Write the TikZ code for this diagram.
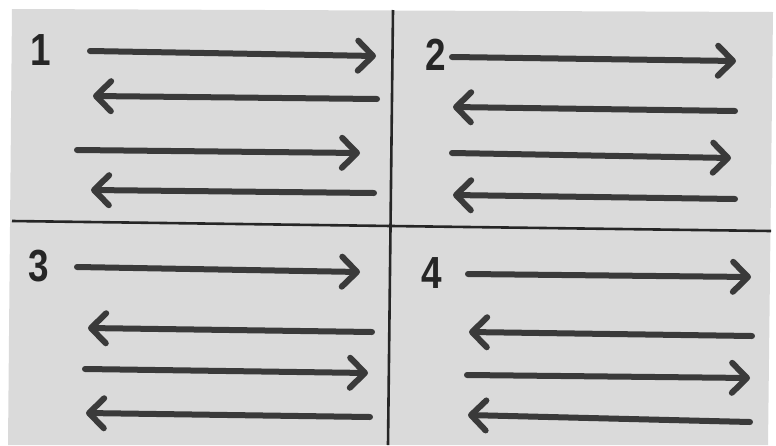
\documentclass[tikz,border=0pt]{standalone}
\usepackage{fontspec}
\setmainfont{Liberation Sans}
\usetikzlibrary{arrows.meta}
\definecolor{paper}{RGB}{218,218,218}
\definecolor{ink}{RGB}{58,58,58}
\tikzset{
  flow/.style={line width=6pt,draw=ink,line cap=round,
    -{Straight Barb[length=15pt,width=30pt,round]}},
  divider/.style={line width=2.6pt,draw=black!85},
  quadnum/.style={font=\fontsize{45}{45}\selectfont\bfseries,text=black!85,
    inner sep=0pt,xscale=0.82}
}
\begin{document}
\begin{tikzpicture}
    [x=1pt,y=-1pt]
    \useasboundingbox (0,0) rectangle (776,445);
    %paper
    \fill[paper] (12,9)--(773,12)--(768,445)--(8,445)--cycle;
    %dividers
    \draw[divider] (12,221)--(771,231);
    \draw[divider] (393,10)--(388,445);
    %numbers
    \node[quadnum] (n1) at (41,50) {1};
    \node[quadnum] (n2) at (436,55) {2};
    \node[quadnum] (n3) at (39,266) {3};
    \node[quadnum] (n4) at (432,273) {4};
    %quadrant 1
    \draw[flow] (90,51)--(376,56);
    \draw[flow] (377,99)--(93,96);
    \draw[flow] (77,150)--(360,153);
    \draw[flow] (374,193)--(91,190);
    %quadrant 2
    \draw[flow] (452,57)--(736,61);
    \draw[flow] (735,111)--(453,107);
    \draw[flow] (452,153)--(731,158);
    \draw[flow] (735,199)--(453,195);
    %quadrant 3
    \draw[flow] (77,267)--(360,272);
    \draw[flow] (372,332)--(88,328);
    \draw[flow] (85,369)--(368,373);
    \draw[flow] (370,417)--(86,413);
    %quadrant 4
    \draw[flow] (468,274)--(751,277);
    \draw[flow] (752,336)--(469,332);
    \draw[flow] (467,375)--(750,378);
    \draw[flow] (750,422)--(468,415);
\end{tikzpicture}
\end{document}
